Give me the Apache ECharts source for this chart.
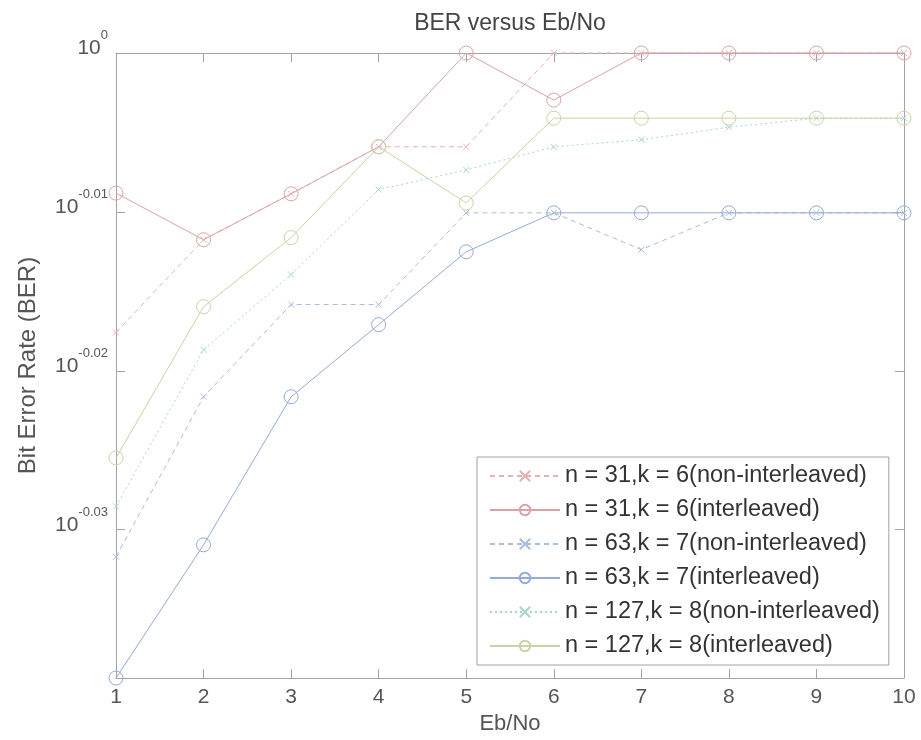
<!DOCTYPE html>
<html>
<head>
<meta charset="utf-8">
<script src="https://cdn.jsdelivr.net/npm/echarts@6/dist/echarts.min.js"></script>
<style>
html,body{margin:0;padding:0;background:#ffffff;}
#chart{width:921px;height:740px;}
</style>
</head>
<body>
<div id="chart"></div>
<script>
// ---- data ----
const ebno = [1, 2, 3, 4, 5, 6, 7, 8, 9, 10];
const ber31Non  = [0.9603, 0.9733, 0.9798, 0.9865, 0.9865, 1, 1, 1, 1, 1];
const ber31Int  = [0.9799, 0.9733, 0.9798, 0.9865, 1, 0.9932, 1, 1, 1, 1];
const ber63Non  = [0.9296, 0.9514, 0.9642, 0.9642, 0.9771, 0.9771, 0.9719, 0.9771, 0.9771, 0.9771];
const ber63Int  = [0.9134, 0.9312, 0.9514, 0.9614, 0.9716, 0.9771, 0.9771, 0.9771, 0.9771, 0.9771];
const ber127Non = [0.9364, 0.9579, 0.9684, 0.9804, 0.9832, 0.9865, 0.9875, 0.9893, 0.9906, 0.9906];
const ber127Int = [0.9430, 0.9639, 0.9736, 0.9865, 0.9785, 0.9906, 0.9906, 0.9906, 0.9906, 0.9906];
const seriesNames = [
  'n = 31,k = 6(non-interleaved)',
  'n = 31,k = 6(interleaved)',
  'n = 63,k = 7(non-interleaved)',
  'n = 63,k = 7(interleaved)',
  'n = 127,k = 8(non-interleaved)',
  'n = 127,k = 8(interleaved)'
];
const xTicks = [1, 2, 3, 4, 5, 6, 7, 8, 9, 10];
const yTickExponents = [0, -0.01, -0.02, -0.03];
const yMin = 0.9134;
const yMax = 1;
const chartTitle = 'BER versus Eb/No';
const xTitle = 'Eb/No';
const yTitle = 'Bit Error Rate (BER)';

// ---- build ----
const FONT = '"Liberation Sans", Arial, sans-serif';
const yTickValues = yTickExponents.map(e => Math.pow(10, e));
const AX = '#a3a3a3';
const TXT = '#555555';
const XPATH = 'path://M0,0L10,10M10,0L0,10';

function mk(name, vals, color, dash, marker) {
  const circ = marker === 'o';
  return {
    type: 'line',
    name: name,
    data: ebno.map((x, i) => [x, vals[i]]),
    xAxisIndex: 0,
    yAxisIndex: 0,
    symbol: circ ? 'circle' : XPATH,
    symbolSize: circ ? 14 : 6,
    showSymbol: true,
    clip: false,
    lineStyle: { color: color, width: 1, type: dash },
    itemStyle: { color: circ ? 'rgba(255,255,255,0)' : color, borderColor: color, borderWidth: 1 },
    emphasis: { disabled: true },
    animation: false
  };
}

const series = [
  mk(seriesNames[0], ber31Non,  '#e6b1b1', [5, 4], 'x'),
  mk(seriesNames[1], ber31Int,  '#d9a3a3', 'solid', 'o'),
  mk(seriesNames[2], ber63Non,  '#a9bcdd', [5, 4], 'x'),
  mk(seriesNames[3], ber63Int,  '#93abd6', 'solid', 'o'),
  mk(seriesNames[4], ber127Non, '#a9d6cf', [2, 3], 'x'),
  mk(seriesNames[5], ber127Int, '#c9d3a6', 'solid', 'o')
];

const commonX = {
  type: 'value', min: 1, max: 10, interval: 1,
  axisLine: { show: true, onZero: false, lineStyle: { color: AX, width: 1 } },
  axisTick: { show: true, inside: true, length: 9, lineStyle: { color: AX } },
  splitLine: { show: false }
};
const commonY = {
  type: 'log', logBase: 10, min: yMin, max: yMax,
  axisLine: { show: true, onZero: false, lineStyle: { color: AX, width: 1 } },
  axisTick: { show: true, inside: true, length: 9, customValues: yTickValues, lineStyle: { color: AX } },
  splitLine: { show: false }
};

const option = {
  backgroundColor: '#ffffff',
  animation: false,
  textStyle: { fontFamily: FONT },
  grid: { left: 116, right: 17, top: 53, bottom: 61, containLabel: false },
  xAxis: [
    Object.assign({}, commonX, {
      position: 'bottom',
      name: xTitle, nameLocation: 'middle', nameGap: 35,
      nameTextStyle: { fontSize: 22, color: TXT, fontFamily: FONT },
      axisLabel: { show: true, fontSize: 21, color: TXT, margin: 9, fontFamily: FONT }
    }),
    Object.assign({}, commonX, {
      position: 'top',
      name: chartTitle, nameLocation: 'middle', nameGap: 18,
      nameTextStyle: { fontSize: 23, color: '#444', fontFamily: FONT },
      axisLabel: { show: false }
    })
  ],
  yAxis: [
    Object.assign({}, commonY, {
      position: 'left',
      name: yTitle, nameLocation: 'middle', nameGap: 76,
      nameTextStyle: { fontSize: 24, color: TXT, fontFamily: FONT },
      axisLabel: {
        show: true, margin: 8, customValues: yTickValues,
        padding: [0, 0, 18, 0],
        formatter: function (v) {
          let e = Math.round(Math.log10(v) * 100) / 100;
          const s = (e === 0) ? '0' : e.toFixed(2);
          return '{b|10}{s|' + s + '}';
        },
        rich: {
          b: { fontSize: 21, color: TXT, fontFamily: FONT, verticalAlign: 'bottom', lineHeight: 30 },
          s: { fontSize: 13, color: TXT, fontFamily: FONT, verticalAlign: 'top', lineHeight: 14 }
        }
      }
    }),
    Object.assign({}, commonY, {
      position: 'right',
      axisLabel: { show: false, customValues: yTickValues }
    })
  ],
  legend: {
    show: true,
    orient: 'vertical',
    left: 477, top: 457,
    padding: [7, 9, 7, 12],
    itemWidth: 70, itemHeight: 13,
    itemGap: 10,
    backgroundColor: '#ffffff',
    borderColor: '#a0a0a0', borderWidth: 1,
    textStyle: { fontSize: 23.5, color: '#333', fontFamily: FONT, lineHeight: 24 },
    data: seriesNames
  },
  series: series
};

const chart = echarts.init(document.getElementById('chart'), null, { renderer: 'canvas' });
chart.setOption(option);
</script>
</body>
</html>
